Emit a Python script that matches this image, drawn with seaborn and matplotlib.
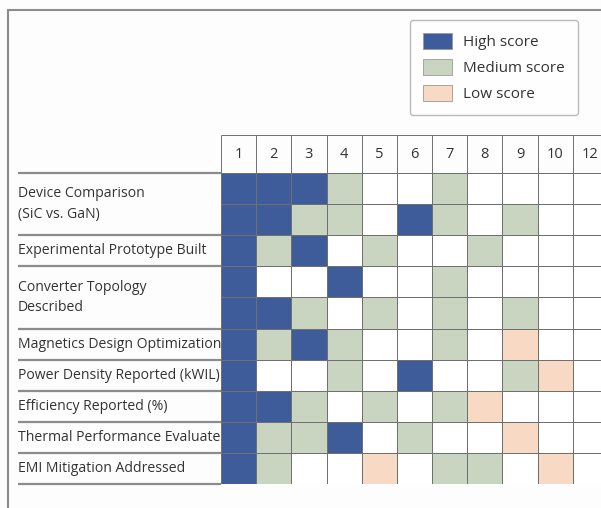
import numpy as np
import pandas as pd
import seaborn as sns
import matplotlib
matplotlib.use('Agg')

import matplotlib.pyplot as plt
from matplotlib.colors import ListedColormap
from matplotlib.patches import Patch, Rectangle

sns.set_style('white')
plt.rcParams['font.family'] = ['Open Sans', 'DejaVu Sans']

columns = ['1', '2', '3', '4', '5', '6', '7', '8', '9', '10', '12']
# 0 = none, 1 = low, 2 = medium, 3 = high
device_a     = [3, 3, 3, 2, 0, 0, 2, 0, 0, 0, 0]
device_b     = [3, 3, 2, 2, 0, 3, 2, 0, 2, 0, 0]
experimental = [3, 2, 3, 0, 2, 0, 0, 2, 0, 0, 0]
converter_a  = [3, 0, 0, 3, 0, 0, 2, 0, 0, 0, 0]
converter_b  = [3, 3, 2, 0, 2, 0, 2, 0, 2, 0, 0]
magnetics    = [3, 2, 3, 2, 0, 0, 2, 0, 1, 0, 0]
power        = [3, 0, 0, 2, 0, 3, 0, 0, 2, 1, 0]
efficiency   = [3, 3, 2, 0, 2, 0, 2, 1, 0, 0, 0]
thermal      = [3, 2, 2, 3, 0, 2, 0, 0, 1, 0, 0]
emi          = [3, 2, 0, 0, 1, 0, 2, 2, 0, 1, 0]

criteria = ['Device Comparison\n(SiC vs. GaN)', 'Experimental Prototype Built',
            'Converter Topology\nDescribed', 'Magnetics Design Optimization',
            'Power Density Reported (kWIL)', 'Efficiency Reported (%)',
            'Thermal Performance Evaluated', 'EMI Mitigation Addressed']
rows_per_criterion = [2, 1, 2, 1, 1, 1, 1, 1]

legend_labels = ['High score', 'Medium score', 'Low score']

colors = ['#ffffff', '#f8dac4', '#c9d5c1', '#3e5b9a']  # none, low, medium, high

grid = pd.DataFrame([device_a, device_b, experimental, converter_a, converter_b,
                     magnetics, power, efficiency, thermal, emi], columns=columns)

W, H = 601, 508
fig = plt.figure(figsize=(W / 100, H / 100), dpi=100)
fig.patch.set_facecolor('#fdfdfd')

ax = fig.add_axes([221 / W, 1 - 484 / H, 387 / W, 311 / H])
sns.heatmap(grid, ax=ax, cmap=ListedColormap(colors), vmin=-0.5, vmax=3.5,
            cbar=False, linewidths=0.7, linecolor='#707070',
            xticklabels=False, yticklabels=False)

ncol = len(columns)
row_px = 311 / len(grid)
col_px = 387 / ncol
hdr = 38 / row_px

# header cells
ax.hlines(-hdr, 0, ncol, color='#707070', lw=0.7, clip_on=False)
ax.vlines(np.arange(ncol + 1), -hdr, 0, color='#707070', lw=0.7, clip_on=False)
for i, c in enumerate(columns):
    ax.text(i + 0.5, -hdr / 2, c, ha='center', va='center', fontsize=10.5,
            color='#333333', clip_on=False)

# row labels and separators in the label area
x_left = (18 - 221) / col_px
bounds = np.concatenate([[0], np.cumsum(rows_per_criterion)])
ax.hlines(bounds, x_left, 0, color='#8c8c8c', lw=1.6, clip_on=False, zorder=0.5)
for lab, y0, y1 in zip(criteria, bounds[:-1], bounds[1:]):
    ax.text(x_left, (y0 + y1) / 2, lab, ha='left', va='center', fontsize=10.1,
            color='#333333', linespacing=1.5, clip_on=False, zorder=0.4)

# legend
handles = [Patch(facecolor=colors[3 - i], edgecolor='#9a9a9a', lw=0.6, label=l)
           for i, l in enumerate(legend_labels)]
leg = fig.legend(handles=handles, loc='upper left', bbox_to_anchor=(410 / W, 1 - 20 / H),
                 frameon=True, fancybox=True, fontsize=11, handlelength=1.9,
                 handleheight=1.2, borderpad=0.85, labelspacing=0.6, handletextpad=0.75,
                 borderaxespad=0)
leg.get_frame().set_edgecolor('#aaaaaa')
leg.get_frame().set_facecolor('#ffffff')
for t in leg.get_texts():
    t.set_color('#333333')

# outer frame
fig.add_artist(Rectangle((8 / W, -0.1), 1.5, 1.1 - 10 / H, transform=fig.transFigure,
                         fill=False, edgecolor='#8c8c8c', lw=1.5))

fig.savefig('out.png', dpi=100)
